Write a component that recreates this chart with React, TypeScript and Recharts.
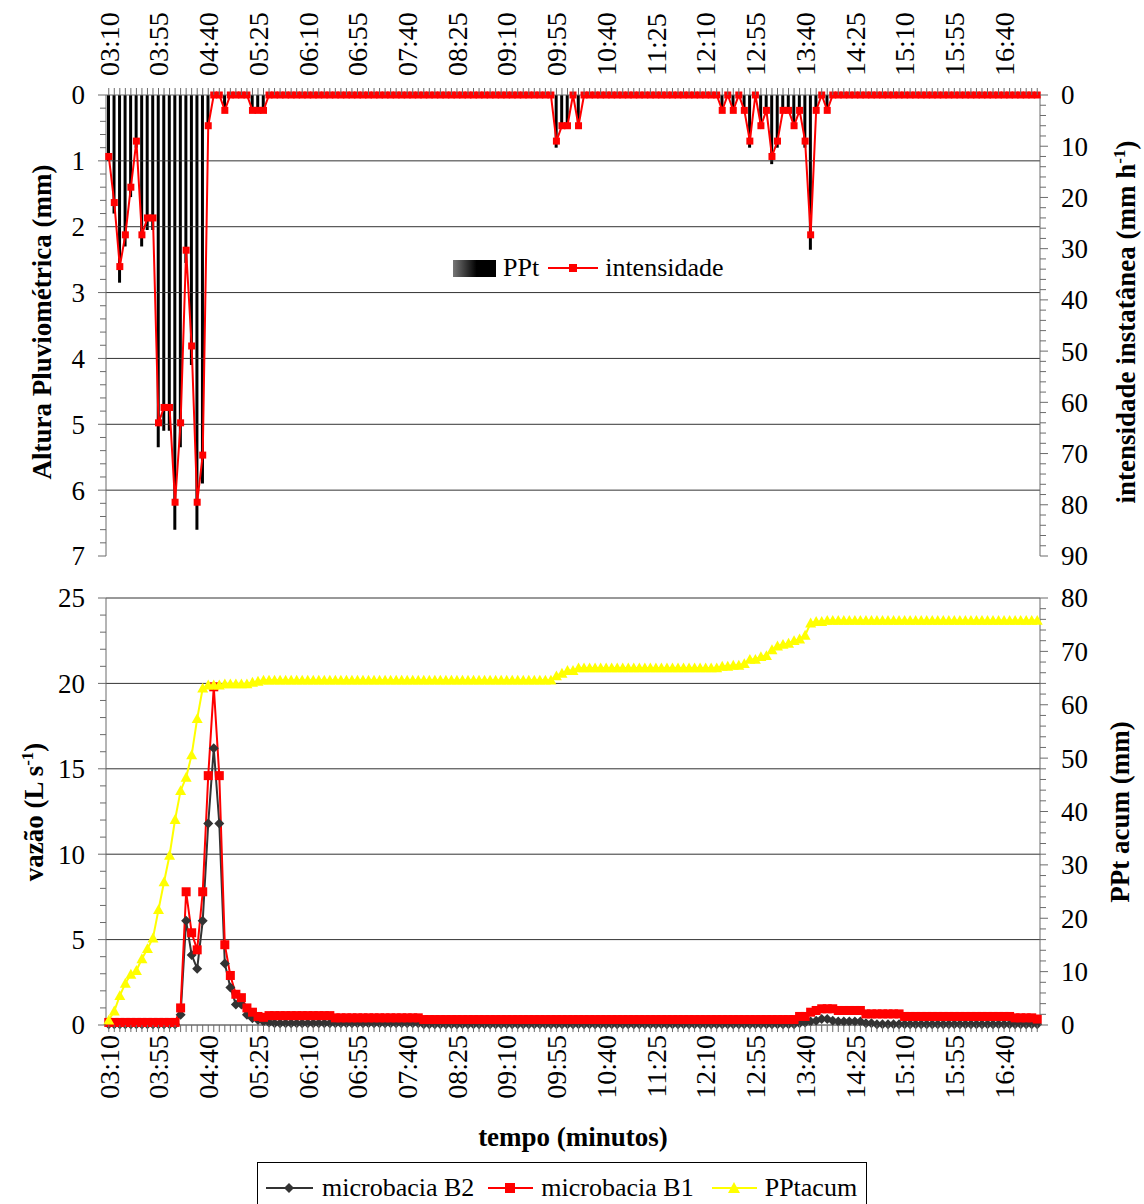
import React from "react";
import { ComposedChart, Bar, Line, XAxis, YAxis, ReferenceLine, Legend } from "recharts";

const FONT = '"Liberation Serif", "Times New Roman", serif';
const AXIS = "#6b6b6b";
const GRID = "#333";

const flat = (v: number, n: number): number[] => Array(n).fill(v);

// 5-minute steps from 03:10 to 17:10
const times: string[] = [];
for (let i = 0; i < 169; i++) {
    const m = 190 + 5 * i;
    times.push(`${String(Math.floor(m / 60)).padStart(2, "0")}:${String(m % 60).padStart(2, "0")}`);
}

// PPt (mm) per interval, three storms
const stormA_ppt = [1.0, 1.8, 2.85, 2.3, 1.55, 0.8, 2.3, 2.05, 2.05, 5.35, 5.1, 5.1, 6.6, 5.35, 2.55, 4.1, 6.6, 5.9, 0.5, 0, 0, 0.25, 0, 0, 0, 0, 0.25, 0.25, 0.25];
const stormB_ppt = [0.8, 0.5, 0.5, 0, 0.5];
const stormC_ppt = [0.25, 0, 0.25, 0, 0.25, 0.8, 0, 0.5, 0.25, 1.05, 0.8, 0.25, 0.25, 0.5, 0.25, 0.8, 2.35, 0.25, 0, 0.25];

// intensidade (mm/h)
const stormA_int = [12, 21, 33.5, 27.3, 18, 9, 27.3, 24, 24, 64, 61, 61, 79.5, 64, 30.3, 49, 79.5, 70.3, 6, 0, 0, 3, 0, 0, 0, 0, 3, 3, 3];
const stormB_int = [9, 6, 6, 0, 6];
const stormC_int = [3, 0, 3, 0, 3, 9, 0, 6, 3, 12, 9, 3, 3, 6, 3, 9, 27.3, 3, 0, 3];

// PPt acumulada (mm)
const acumA = [0.9, 2.6, 5.5, 7.8, 9.5, 10.2, 12.4, 14.3, 16.3, 21.6, 26.8, 31.8, 38.5, 43.9, 46.4, 50.6, 57.4, 63.1, 63.7, 63.7, 63.7, 63.9, 63.9, 63.9, 63.9, 63.9, 64.2, 64.4, 64.6];
const acumB = [65.4, 65.9, 66.4, 66.4, 66.9];
const acumC = [67.2, 67.2, 67.4, 67.4, 67.7, 68.5, 68.5, 69.0, 69.2, 70.3, 71.0, 71.3, 71.5, 72.0, 72.3, 73.0, 75.3, 75.6, 75.6, 75.8];

// vazão (L/s)
const b1Peak = [1.0, 7.8, 5.4, 4.4, 7.8, 14.6, 19.8, 14.6, 4.7, 2.9, 1.8, 1.6, 1.0, 0.75, 0.5, 0.45, 0.55];
const b1Late = [0.5, 0.5, 0.75, 0.85, 0.95, 0.95, 0.95, 0.85, 0.85, 0.85, 0.85, 0.85, 0.65, 0.65, 0.65, 0.65, 0.65, 0.65, 0.65];
const b2Peak = [0.6, 6.1, 4.1, 3.3, 6.1, 11.8, 16.2, 11.8, 3.6, 2.2, 1.2, 1.2, 0.6, 0.4, 0.3, 0.2, 0.15];
const b2Late = [0.1, 0.15, 0.2, 0.25, 0.35, 0.35, 0.25, 0.2, 0.2, 0.2, 0.2, 0.2, 0.1, 0.1, 0.05, 0.05, 0.05, 0.05, 0.05];

const pptMm = [...stormA_ppt, ...flat(0, 52), ...stormB_ppt, ...flat(0, 25), ...stormC_ppt, ...flat(0, 38)];
const intensidade = [...stormA_int, ...flat(0, 52), ...stormB_int, ...flat(0, 25), ...stormC_int, ...flat(0, 38)];
const pptAcum = [...acumA, ...flat(64.6, 52), ...acumB, ...flat(66.9, 25), ...acumC, ...flat(75.8, 38)];
const vazaoB1 = [...flat(0.15, 13), ...b1Peak, ...flat(0.55, 11), ...flat(0.42, 16), ...flat(0.32, 68), ...b1Late, ...flat(0.5, 20), ...flat(0.42, 4), 0.35];
const vazaoB2 = [...flat(0.05, 13), ...b2Peak, ...flat(0.1, 27), ...flat(0.05, 68), ...b2Late, ...flat(0.05, 25)];

const data = times.map((t, i) => ({
    t,
    ppt: pptMm[i],
    intens: intensidade[i],
    acum: pptAcum[i],
    b1: vazaoB1[i],
    b2: vazaoB2[i],
}));

const steps = (max: number, step: number) => {
    const a: number[] = [];
    for (let k = 0; k * step <= max + 1e-9; k++) a.push(+(k * step).toFixed(4));
    return a;
};

const LABEL_EVERY = 9;

const xTick = (top: boolean) => (props: any) => {
    const { x, y, payload, index } = props;
    const idx = payload?.index ?? index;
    const ty = top ? y - 19 : y + 10;
    return (
        <g>
            <line x1={x} x2={x} y1={y} y2={top ? y - 7 : y + 7} stroke={AXIS} />
            {idx % LABEL_EVERY === 0 && (
                <text
                    x={x}
                    y={ty}
                    dy="0.35em"
                    transform={`rotate(-90 ${x} ${ty})`}
                    textAnchor={top ? "start" : "end"}
                    fontFamily={FONT}
                    style={{ fontFamily: FONT }}
                    fontSize={28}
                    fill="#000"
                >
                    {payload.value}
                </text>
            )}
        </g>
    );
};

const yTick = (side: "left" | "right", major: number) => (props: any) => {
    const { x, y, payload } = props;
    const v = payload.value;
    const isMajor = Math.abs(v / major - Math.round(v / major)) < 1e-6;
    const dir = side === "left" ? -1 : 1;
    return (
        <g>
            <line x1={x} x2={x + dir * (isMajor ? 8 : 6)} y1={y} y2={y} stroke={AXIS} />
            {isMajor && (
                <text
                    x={x + dir * 21}
                    y={y}
                    dy="0.35em"
                    textAnchor={side === "left" ? "end" : "start"}
                    fontFamily={FONT}
                    style={{ fontFamily: FONT }}
                    fontSize={27}
                    fill="#000"
                >
                    {Math.round(v)}
                </text>
            )}
        </g>
    );
};

const vTitle = (x: number, y: number, main: string, sup?: string, tail?: string) => () => (
    <text
        x={x}
        y={y}
        dy="0.35em"
        transform={`rotate(-90 ${x} ${y})`}
        textAnchor="middle"
        fontFamily={FONT}
        fontWeight="bold"
        fontSize={27}
        fill="#000"
    >
        {main}
        {sup && (
            <tspan dy={-10} fontSize={17}>
                {sup}
            </tspan>
        )}
        {tail && <tspan dy={10}>{tail}</tspan>}
    </text>
);

const squareDot = (size: number, color: string) => (p: any) => (
    <rect key={`s${p.index}`} x={p.cx - size / 2} y={p.cy - size / 2} width={size} height={size} fill={color} />
);
const diamondDot = (r: number, color: string) => (p: any) => (
    <polygon
        key={`d${p.index}`}
        points={`${p.cx},${p.cy - r} ${p.cx + r},${p.cy} ${p.cx},${p.cy + r} ${p.cx - r},${p.cy}`}
        fill={color}
    />
);
const triangleDot = (r: number, color: string) => (p: any) => (
    <polygon
        key={`t${p.index}`}
        points={`${p.cx},${p.cy - r} ${p.cx + r},${p.cy + r * 0.8} ${p.cx - r},${p.cy + r * 0.8}`}
        fill={color}
    />
);

const TopLegend = () => (
    <div style={{ display: "flex", alignItems: "center", height: 34, fontFamily: FONT, fontSize: 26, color: "#000", whiteSpace: "nowrap" }}>
        <span style={{ display: "inline-block", width: 43, height: 17, background: "linear-gradient(to right, #777, #000 55%)", marginRight: 7 }} />
        <span>PPt</span>
        <svg width={50} height={20} style={{ marginLeft: 9, marginRight: 7 }}>
            <line x1={0} x2={50} y1={10} y2={10} stroke="#ff0000" strokeWidth={2} />
            <rect x={21} y={6} width={8} height={8} fill="#ff0000" />
        </svg>
        <span>intensidade</span>
    </div>
);

const BottomLegend = () => (
    <div
        style={{
            display: "flex",
            alignItems: "center",
            boxSizing: "border-box",
            height: 52,
            border: "1px solid #000",
            paddingLeft: 8,
            fontFamily: FONT,
            fontSize: 26,
            color: "#000",
            whiteSpace: "nowrap",
            background: "#fff",
        }}
    >
        <svg width={47} height={20} style={{ marginRight: 9 }}>
            <line x1={0} x2={47} y1={10} y2={10} stroke="#333" strokeWidth={2} />
            <polygon points="23,5 28,10 23,15 18,10" fill="#333" />
        </svg>
        <span>microbacia B2</span>
        <svg width={45} height={20} style={{ marginLeft: 14, marginRight: 8 }}>
            <line x1={0} x2={45} y1={10} y2={10} stroke="#ff0000" strokeWidth={2} />
            <rect x={17} y={5} width={10} height={10} fill="#ff0000" />
        </svg>
        <span>microbacia B1</span>
        <svg width={45} height={20} style={{ marginLeft: 18, marginRight: 8 }}>
            <line x1={0} x2={45} y1={10} y2={10} stroke="#ffff00" strokeWidth={2} />
            <polygon points="22,4 28,15 16,15" fill="#ffff00" />
        </svg>
        <span>PPtacum</span>
    </div>
);

export default function App() {
    return (
        <div style={{ position: "absolute", left: 0, top: 0, width: 1144, height: 1204, background: "#fff" }}>
            <div style={{ position: "absolute", left: 0, top: 0 }}>
                <ComposedChart width={1144} height={570} data={data} margin={{ top: 0, right: 0, bottom: 14, left: 0 }}>
                    <XAxis
                        dataKey="t"
                        orientation="top"
                        height={95}
                        interval={0}
                        tickSize={0}
                        tickMargin={0}
                        tickLine={false}
                        axisLine={{ stroke: AXIS }}
                        tick={xTick(true)}
                    />
                    <YAxis
                        yAxisId="left"
                        orientation="left"
                        width={106}
                        reversed
                        domain={[0, 7]}
                        ticks={steps(7, 0.2)}
                        interval={0}
                        tickSize={0}
                        tickMargin={0}
                        tickLine={false}
                        axisLine={{ stroke: AXIS }}
                        tick={yTick("left", 1)}
                        label={vTitle(42, 322, "Altura Pluviométrica (mm)")}
                    />
                    <YAxis
                        yAxisId="right"
                        orientation="right"
                        width={104}
                        reversed
                        domain={[0, 90]}
                        ticks={steps(90, 2)}
                        interval={0}
                        tickSize={0}
                        tickMargin={0}
                        tickLine={false}
                        axisLine={{ stroke: AXIS }}
                        tick={yTick("right", 10)}
                        label={vTitle(1126, 322, "intensidade instatânea (mm h", "-1", ")")}
                    />
                    {[1, 2, 3, 4, 5, 6].map((v) => (
                        <ReferenceLine key={v} yAxisId="left" y={v} stroke={GRID} strokeWidth={1} />
                    ))}
                    <Bar yAxisId="left" dataKey="ppt" name="PPt" fill="#000" barSize={3} isAnimationActive={false} />
                    <Line
                        yAxisId="right"
                        dataKey="intens"
                        name="intensidade"
                        stroke="#ff0000"
                        strokeWidth={2}
                        dot={squareDot(7, "#ff0000")}
                        activeDot={false}
                        isAnimationActive={false}
                    />
                    <Legend
                        verticalAlign="middle"
                        align="center"
                        layout="horizontal"
                        content={() => <TopLegend />}
                        wrapperStyle={{ left: 453, top: 251, width: 300, height: 34 }}
                    />
                </ComposedChart>
            </div>
            <div style={{ position: "absolute", left: 0, top: 575 }}>
                <ComposedChart width={1144} height={629} data={data} margin={{ top: 23, right: 0, bottom: 0, left: 0 }}>
                    <XAxis
                        dataKey="t"
                        scale="band"
                        height={179}
                        interval={0}
                        tickSize={0}
                        tickMargin={0}
                        tickLine={false}
                        axisLine={{ stroke: "#222" }}
                        tick={xTick(false)}
                        label={() => (
                            <text x={573} y={562} dy="0.35em" textAnchor="middle" fontFamily={FONT} fontWeight="bold" fontSize={27} fill="#000">
                                tempo (minutos)
                            </text>
                        )}
                    />
                    <YAxis
                        yAxisId="left"
                        orientation="left"
                        width={106}
                        domain={[0, 25]}
                        ticks={steps(25, 1)}
                        interval={0}
                        tickSize={0}
                        tickMargin={0}
                        tickLine={false}
                        axisLine={{ stroke: AXIS }}
                        tick={yTick("left", 5)}
                        label={vTitle(34, 237, "vazão (L s", "-1", ")")}
                    />
                    <YAxis
                        yAxisId="right"
                        orientation="right"
                        width={104}
                        domain={[0, 80]}
                        ticks={steps(80, 2)}
                        interval={0}
                        tickSize={0}
                        tickMargin={0}
                        tickLine={false}
                        axisLine={{ stroke: AXIS }}
                        tick={yTick("right", 10)}
                        label={vTitle(1120, 237, "PPt acum (mm)")}
                    />
                    {[5, 10, 15, 20, 25].map((v) => (
                        <ReferenceLine key={v} yAxisId="left" y={v} stroke={GRID} strokeWidth={1} />
                    ))}
                    <Line
                        yAxisId="left"
                        dataKey="b2"
                        name="microbacia B2"
                        stroke="#333"
                        strokeWidth={2}
                        dot={diamondDot(5, "#333")}
                        activeDot={false}
                        isAnimationActive={false}
                    />
                    <Line
                        yAxisId="left"
                        dataKey="b1"
                        name="microbacia B1"
                        stroke="#ff0000"
                        strokeWidth={2}
                        dot={squareDot(9, "#ff0000")}
                        activeDot={false}
                        isAnimationActive={false}
                    />
                    <Line
                        yAxisId="right"
                        dataKey="acum"
                        name="PPtacum"
                        stroke="#ffff00"
                        strokeWidth={2}
                        dot={triangleDot(5.5, "#ffff00")}
                        activeDot={false}
                        isAnimationActive={false}
                    />
                    <Legend
                        verticalAlign="middle"
                        align="center"
                        layout="horizontal"
                        content={() => <BottomLegend />}
                        wrapperStyle={{ left: 257, top: 587, width: 610, height: 52 }}
                    />
                </ComposedChart>
            </div>
        </div>
    );
}
